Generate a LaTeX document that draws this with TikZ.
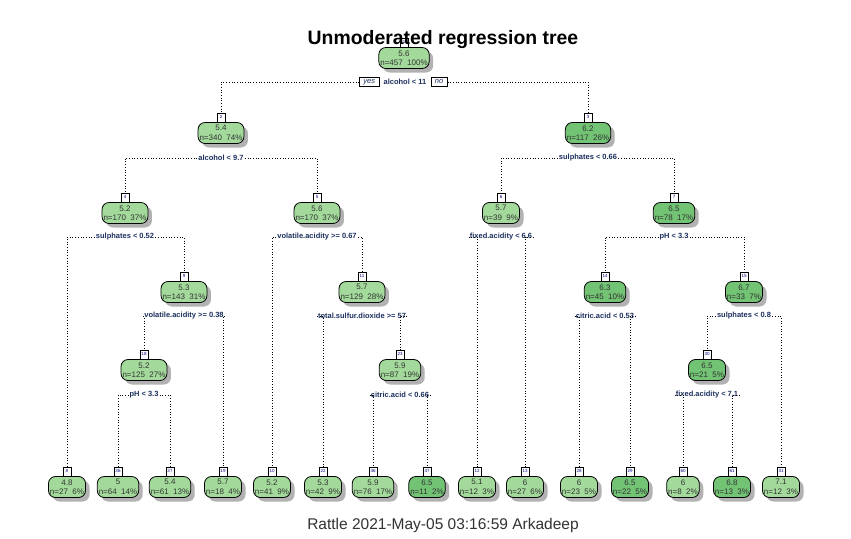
\documentclass[tikz,border=0pt]{standalone}
\usepackage{fontspec}
\setmainfont{Liberation Sans}
\usetikzlibrary{positioning,shadows}
\definecolor{lowgreen}{HTML}{A3DA9B}
\definecolor{midgreen}{HTML}{72C374}
\definecolor{splitblue}{HTML}{1B2F5E}
\tikzset{
  box/.style={draw, line width=0.8pt, rounded corners=7pt, fill=#1,
    drop shadow={shadow xshift=4pt, shadow yshift=-4pt, fill=black!30, opacity=1},
    font=\fontsize{8}{9.5}\selectfont, align=center, text=black!80,
    inner xsep=1.5pt, inner ysep=1.5pt, minimum height=21pt},
  numbox/.style={draw, fill=white, line width=0.6pt, anchor=south,
    font=\fontsize{4.5}{5}\selectfont, text=blue!50!black,
    inner sep=0.8pt, minimum width=8pt, minimum height=9pt},
  split/.style={fill=white, font=\bfseries\fontsize{7.5}{8}\selectfont,
    text=splitblue, inner sep=1pt},
  yesno/.style={draw, fill=white, font=\itshape\fontsize{7.5}{8}\selectfont,
    text=splitblue, line width=0.6pt, inner xsep=4pt, inner ysep=0.8pt,
    minimum height=9pt},
  tree/.style={dotted, line width=0.7pt}
}
\begin{document}
\begin{tikzpicture}[x=1pt,y=-1pt]
    \useasboundingbox[fill=white] (0,0) rectangle (851,538);

    % Inner nodes
    \foreach \id/\x/\y/\val/\cnt/\pc/\col in {
        1/404/58/5.6/457/100/lowgreen,
        2/221/133/5.4/340/74/lowgreen,
        3/588/133/6.2/117/26/midgreen,
        4/125/213/5.2/170/37/lowgreen,
        5/317/213/5.6/170/37/lowgreen,
        6/501/213/5.7/39/9/lowgreen,
        7/674/213/6.5/78/17/midgreen,
        9/184/292/5.3/143/31/lowgreen,
        11/362/292/5.7/129/28/lowgreen,
        14/605/292/6.3/45/10/midgreen,
        15/744/292/6.7/33/7/midgreen,
        18/144/370/5.2/125/27/lowgreen,
        23/400/370/5.9/87/19/lowgreen,
        30/707/370/6.5/21/5/midgreen}
    {
        \node[box=\col] (n\id) at (\x,\y) {\val\\n=\cnt\ \ \pc\%};
        \node[numbox] (k\id) at (n\id.north) {\id};
    }

    % Leaves
    \foreach \id/\x/\val/\cnt/\pc/\col in {
        8/67/4.8/27/6/lowgreen,
        36/118/5/64/14/lowgreen,
        37/170/5.4/61/13/lowgreen,
        19/223/5.7/18/4/lowgreen,
        10/272/5.2/41/9/lowgreen,
        22/323/5.3/42/9/lowgreen,
        46/373/5.9/76/17/lowgreen,
        47/427/6.5/11/2/midgreen,
        12/477/5.1/12/3/lowgreen,
        13/525/6/27/6/lowgreen,
        28/579/6/23/5/lowgreen,
        29/630/6.5/22/5/midgreen,
        60/683/6/8/2/lowgreen,
        61/732/6.8/13/3/midgreen,
        31/781/7.1/12/3/lowgreen}
    {
        \node[box=\col] (n\id) at (\x,487) {\val\\n=\cnt\ \ \pc\%};
        \node[numbox] (k\id) at (n\id.north) {\id};
    }

    % Split labels
    \node[split] (s1) at (405,82) {alcohol < 11};
    \node[yesno, left=3pt of s1] (yes) {yes};
    \node[yesno, right=3pt of s1] (no) {no};
    \node[split] (s2) at (221,158) {alcohol < 9.7};
    \node[split] (s3) at (588,158) {sulphates < 0.66};
    \node[split] (s4) at (125,237) {sulphates < 0.52};
    \node[split] (s5) at (317,237) {volatile.acidity >= 0.67};
    \node[split] (s6) at (501,237) {fixed.acidity < 6.6};
    \node[split] (s7) at (674,237) {pH < 3.3};
    \node[split] (s9) at (184,316) {volatile.acidity >= 0.38};
    \node[split] (s11) at (362,316) {total.sulfur.dioxide >= 57};
    \node[split] (s14) at (605,316) {citric.acid < 0.53};
    \node[split] (s15) at (744,316) {sulphates < 0.8};
    \node[split] (s18) at (144,395) {pH < 3.3};
    \node[split] (s23) at (400,395) {citric.acid < 0.66};
    \node[split] (s30) at (707,395) {fixed.acidity < 7.1};

    % Branches
    \draw[tree] (yes) -| (k2);
    \draw[tree] (no) -| (k3);
    \foreach \p/\l/\r in {2/4/5, 3/6/7, 4/8/9, 5/10/11, 6/12/13, 7/14/15,
        9/18/19, 11/22/23, 14/28/29, 15/30/31, 18/36/37, 23/46/47, 30/60/61}
    {
        \draw[tree] (s\p) -| (k\l);
        \draw[tree] (s\p) -| (k\r);
    }

    % Title and caption
    \node[font=\bfseries\fontsize{19.4}{22}\selectfont] (title) at (443,40) {Unmoderated regression tree};
    \node[font=\fontsize{15.5}{18}\selectfont, text=black!80] (caption) at (443,525) {Rattle 2021-May-05 03:16:59 Arkadeep};
\end{tikzpicture}
\end{document}
